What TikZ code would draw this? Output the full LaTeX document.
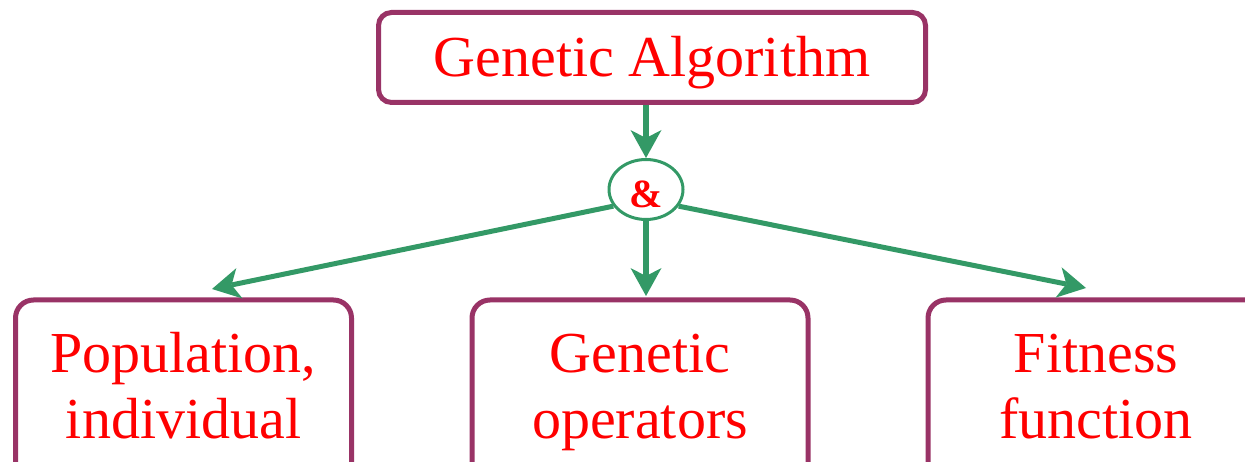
\documentclass[tikz,border=0pt]{standalone}
\usepackage{fontspec}
\setmainfont{Liberation Serif}
\usetikzlibrary{arrows.meta,shapes.geometric}
\definecolor{boxrim}{RGB}{153,51,102}
\definecolor{linkgreen}{RGB}{51,153,102}
\begin{document}
\begin{tikzpicture}[x=1pt,y=-1pt,
  headbox/.style={draw=boxrim, line width=5pt, rounded corners=13pt, text=red,
    font=\fontsize{58}{66}\selectfont, minimum width=547pt, minimum height=90pt,
    inner sep=0pt, text height=40pt, text depth=1pt},
  leafbox/.style={draw=boxrim, line width=5pt, rounded corners=18pt, text=red,
    font=\fontsize{58}{66}\selectfont, align=center, text width=336pt,
    inner xsep=0pt, inner ysep=30.5pt, anchor=north, text height=42pt, text depth=130pt},
  joinnode/.style={ellipse, draw=linkgreen, line width=3pt, minimum width=74pt,
    minimum height=60pt, inner sep=0pt, text=red, font=\fontsize{40}{44}\selectfont\bfseries,
    text height=37pt, text depth=1pt},
  link/.style={draw=linkgreen, line width=#1,
    -{Stealth[length=28pt, width=31pt, inset=8pt, line width=0pt]}},
  link/.default=5pt]
  \useasboundingbox (0,0) rectangle (1245,462);
  \clip (0,0) rectangle (1245,462);

  % root and junction
  \node[headbox] (ga) at (652,57.5) {Genetic Algorithm};
  \node[joinnode] (amp) at (646,189.5) {\&};

  % the three components
  \node[leafbox] (pop) at (183.5,297.5) {Population,\\individual};
  \node[leafbox] (ops) at (640,297.5) {Genetic\\operators};
  \node[leafbox] (fit) at (1096,297.5) {Fitness\\function};

  % arrow end points on the box tops
  \coordinate (popin) at (212,289);
  \coordinate (opsin) at (646,296);
  \coordinate (fitin) at (1086,288);

  \draw[link=6pt] (ga.south -| amp) -- (amp);
  \draw[link=6pt] (amp) -- (opsin);
  \draw[link] (amp.207) -- (popin);
  \draw[link] (amp.333) -- (fitin);
\end{tikzpicture}
\end{document}
